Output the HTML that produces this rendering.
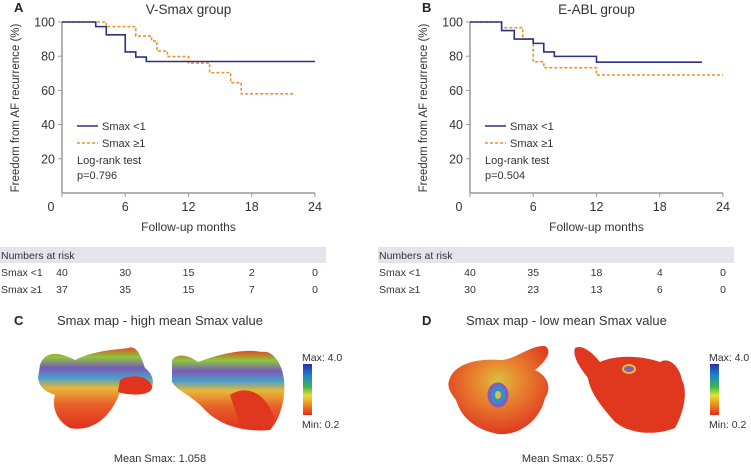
<!DOCTYPE html>
<html><head><meta charset="utf-8">
<style>
html,body{margin:0;padding:0;background:#fff;}
body{width:751px;height:465px;overflow:hidden;font-family:"Liberation Sans",sans-serif;color:#333;}
svg text{font-family:"Liberation Sans",sans-serif;}
</style></head>
<body>
<svg id="fig" width="751" height="465" viewBox="0 0 751 465" xmlns="http://www.w3.org/2000/svg">
<defs>
<linearGradient id="cbar" x1="0" y1="0" x2="0" y2="1">
<stop offset="0" stop-color="#2b2f9a"/><stop offset="0.22" stop-color="#1f7fd0"/><stop offset="0.45" stop-color="#3cb84a"/><stop offset="0.62" stop-color="#e6e033"/><stop offset="0.8" stop-color="#f08a1c"/><stop offset="1" stop-color="#e8261c"/>
</linearGradient>
<linearGradient id="heartHigh" x1="0" y1="0" x2="0" y2="1">
<stop offset="0" stop-color="#e04a24"/><stop offset="0.12" stop-color="#8cc83c"/><stop offset="0.25" stop-color="#7a5ab8"/><stop offset="0.38" stop-color="#4aa0c8"/><stop offset="0.5" stop-color="#e8b838"/><stop offset="0.7" stop-color="#e8602a"/><stop offset="1" stop-color="#e0301c"/>
</linearGradient>
<radialGradient id="heartLow" cx="0.5" cy="0.4" r="0.6">
<stop offset="0" stop-color="#d8c040"/><stop offset="0.35" stop-color="#e88a30"/><stop offset="1" stop-color="#e03a20"/>
</radialGradient>
</defs>
<g id="panelA"></g>
<g id="panelB"></g>

<g>
<text x="14" y="325" font-size="13" font-weight="bold" fill="#222">C</text>
<text x="57" y="325" font-size="13" fill="#333">Smax map - high mean Smax value</text>
<g>
<path d="M40,365 C45,350 60,352 75,360 C95,350 115,350 128,348 C135,345 140,352 145,368 C155,375 155,388 148,392 C140,395 128,390 120,392 C110,420 90,432 70,428 C55,420 52,405 55,395 C48,392 40,390 38,378 Z" fill="url(#heartHigh)"/>
<path d="M120,380 C135,372 152,378 152,388 C150,396 130,396 118,392 Z" fill="#e0341e"/>
</g>
<g>
<path d="M172,360 C178,352 190,356 198,362 C215,356 240,348 262,352 C272,350 282,362 284,380 C286,398 280,420 270,430 C250,432 222,428 205,410 C192,395 178,392 172,382 Z" fill="url(#heartHigh)"/>
<path d="M230,395 C245,385 265,390 275,420 C268,430 250,430 240,425 Z" fill="#e0381e"/>
</g>
<rect x="303" y="364" width="9" height="51" fill="url(#cbar)"/>
<text x="302" y="361" font-size="10.5" fill="#333">Max: 4.0</text>
<text x="302" y="428" font-size="10.5" fill="#333">Min: 0.2</text>
<text x="160" y="462" font-size="11" fill="#333" text-anchor="middle">Mean Smax: 1.058</text>
</g>

<g>
<text x="422" y="325" font-size="13" font-weight="bold" fill="#222">D</text>
<text x="466" y="325" font-size="13" fill="#333">Smax map - low mean Smax value</text>
<g>
<path d="M450,378 C455,365 475,358 500,360 C515,360 530,345 545,346 C552,350 548,360 535,370 C548,376 552,388 545,398 C540,420 520,436 498,434 C478,430 462,420 456,400 C450,392 446,386 450,378 Z" fill="url(#heartLow)"/>
<ellipse cx="498" cy="395" rx="9" ry="11" fill="#3a8acc" stroke="#8a5ab8" stroke-width="3"/>
<ellipse cx="498" cy="395" rx="3" ry="4" fill="#d8c040"/>
</g>
<g>
<path d="M575,348 C582,344 592,352 600,362 C615,355 640,355 660,362 C670,356 680,368 682,380 C688,392 684,412 675,428 C655,436 630,434 615,422 C600,405 590,392 588,378 C580,368 572,356 575,348 Z" fill="#e0381e"/>
<ellipse cx="629" cy="369" rx="6" ry="4" fill="#8a5ab8" stroke="#e0c038" stroke-width="2"/>
</g>
<rect x="710" y="364" width="9" height="51" fill="url(#cbar)"/>
<text x="709" y="361" font-size="10.5" fill="#333">Max: 4.0</text>
<text x="709" y="428" font-size="10.5" fill="#333">Min: 0.2</text>
<text x="568" y="462" font-size="11" fill="#333" text-anchor="middle">Mean Smax: 0.557</text>
</g>
</svg>
<script>
const aBlueT = [0, 3.2, 4.2, 6, 7, 8, 24];
const aBlueV = [100, 97.3, 92.5, 82.5, 79.5, 76.9, 76.9];
const aOrangeT = [0, 4.2, 7, 8.5, 9, 10, 12, 14, 16, 17, 22];
const aOrangeV = [100, 97.3, 91.8, 88.9, 83, 79.8, 76, 70.4, 64.5, 58, 58];
const aRisk1 = ["40", "30", "15", "2", "0"];
const aRisk2 = ["37", "35", "15", "7", "0"];
const bBlueT = [0, 3, 4.2, 6, 7, 8, 12, 22];
const bBlueV = [100, 95, 90, 87.5, 82.5, 79.9, 76.5, 76.5];
const bOrangeT = [0, 3, 5, 6, 7, 12, 24];
const bOrangeV = [100, 96.7, 90, 76.7, 73.3, 69, 69];
const bRisk1 = ["40", "35", "18", "4", "0"];
const bRisk2 = ["30", "23", "13", "6", "0"];
const xTicks = [0, 6, 12, 18, 24];
const yTicks = [20, 40, 60, 80, 100];

const NS = "http://www.w3.org/2000/svg";
function mk(parent, tag, attrs, text) {
  const e = document.createElementNS(NS, tag);
  for (const k in attrs) e.setAttribute(k, attrs[k]);
  if (text !== undefined) e.textContent = text;
  parent.appendChild(e);
  return e;
}
function drawPanel(gid, ox, letter, title, blueT, blueV, orT, orV, r1, r2, pval, tableX, tableW) {
  const g = document.getElementById(gid);
  const x0 = ox, x1 = ox + 253, yTop = 22, yBot = 193;
  const xs = m => x0 + m * (x1 - x0) / 24;
  const ys = v => yBot - v * (yBot - yTop) / 100;
  let t;
  t = mk(g, "text", {x: x0 - 48, y: 12, "font-size": 13, "font-weight": "bold", fill: "#222"}, letter);
  
  
  t = mk(g, "text", {x: (x0 + x1) / 2, y: 14, "font-size": 13.5, fill: "#333", "text-anchor": "middle"}, title);
  
  
  t = mk(g, "text", {x: 0, y: 0, "font-size": 11.5, fill: "#333", "text-anchor": "middle", transform: `translate(${x0 - 43},108) rotate(-90)`}, "Freedom from AF recurrence (%)");
  
  
  let a = mk(g, "line", {x1: x0, y1: yTop, x2: x0, y2: yBot, stroke: "#999", "stroke-width": 1.5});
  
  
  a = mk(g, "line", {x1: x0, y1: yBot, x2: x1, y2: yBot, stroke: "#999", "stroke-width": 1.5});
  
  
  yTicks.forEach(v => {
    let l = mk(g, "line", {x1: x0 - 4, y1: ys(v), x2: x0, y2: ys(v), stroke: "#999", "stroke-width": 1});
    
    
    let tt = mk(g, "text", {x: x0 - 7, y: ys(v) + 4.5, "font-size": 12.5, fill: "#333", "text-anchor": "end"}, String(v));
    
    
  });
  xTicks.forEach(m => {
    let l = mk(g, "line", {x1: xs(m), y1: yBot, x2: xs(m), y2: yBot + 4, stroke: "#999", "stroke-width": 1});
    
    
    let tt = mk(g, "text", {x: m === 0 ? x0 - 11 : xs(m), y: 211, "font-size": 12.5, fill: "#333", "text-anchor": "middle"}, String(m));
    
    
  });
  t = mk(g, "text", {x: (x0 + x1) / 2, y: 231, "font-size": 12, fill: "#333", "text-anchor": "middle"}, "Follow-up months");
  
  
  function step(T, V) {
    let d = `M${xs(T[0])},${ys(V[0])}`;
    for (let i = 1; i < T.length; i++) {
      d += ` H${xs(T[i])} V${ys(V[i])}`;
    }
    return d;
  }
  let p = mk(g, "path", {d: step(orT, orV), fill: "none", stroke: "#f0902a", "stroke-width": 1.6, "stroke-dasharray": "3,2"});
  
  
  p = mk(g, "path", {d: step(blueT, blueV), fill: "none", stroke: "#2e2f86", "stroke-width": 1.6});
  
  
  const lx = x0 + 15;
  let l = mk(g, "line", {x1: lx, y1: 126, x2: lx + 21, y2: 126, stroke: "#2e2f86", "stroke-width": 1.6});
  
  
  t = mk(g, "text", {x: lx + 25, y: 130, "font-size": 11, fill: "#333"}, "Smax <1");
  
  
  l = mk(g, "line", {x1: lx, y1: 143, x2: lx + 21, y2: 143, stroke: "#f0902a", "stroke-width": 1.6, "stroke-dasharray": "3,2"});
  
  
  t = mk(g, "text", {x: lx + 25, y: 147, "font-size": 11, fill: "#333"}, "Smax ≥1");
  
  
  t = mk(g, "text", {x: lx, y: 164, "font-size": 11, fill: "#333"}, "Log-rank test");
  
  
  t = mk(g, "text", {x: lx, y: 179, "font-size": 11, fill: "#333"}, pval);
  
  
  let r = mk(g, "rect", {x: tableX, y: 247, width: tableW, height: 16, fill: "#e4e4ee"});
  
  
  t = mk(g, "text", {x: tableX + 1, y: 259, "font-size": 10.5, fill: "#333"}, "Numbers at risk");
  
  
  t = mk(g, "text", {x: tableX + 1, y: 276, "font-size": 10.5, fill: "#333"}, "Smax <1");
  
  
  t = mk(g, "text", {x: tableX + 1, y: 293, "font-size": 10.5, fill: "#333"}, "Smax ≥1");
  
  
  xTicks.forEach((m, i) => {
    let c = mk(g, "text", {x: xs(m), y: 276, "font-size": 10.5, fill: "#333", "text-anchor": "middle"}, r1[i]);
    
    
    c = mk(g, "text", {x: xs(m), y: 293, "font-size": 10.5, fill: "#333", "text-anchor": "middle"}, r2[i]);
    
    
  });
}
drawPanel("panelA", 62, "A", "V-Smax group", aBlueT, aBlueV, aOrangeT, aOrangeV, aRisk1, aRisk2, "p=0.796", 0, 326);
drawPanel("panelB", 470, "B", "E-ABL group", bBlueT, bBlueV, bOrangeT, bOrangeV, bRisk1, bRisk2, "p=0.504", 378, 356);
</script>
</body></html>
